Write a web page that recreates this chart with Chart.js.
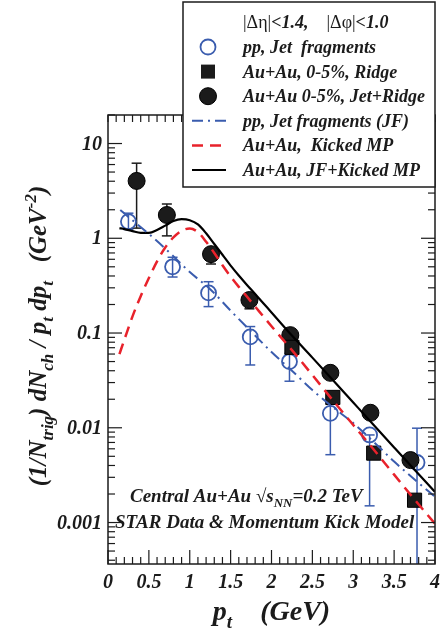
<!DOCTYPE html>
<html lang="en">
<head>
<meta charset="UTF-8">
<title>pt spectra - momentum kick model</title>
<script src="https://cdn.jsdelivr.net/npm/chart.js"></script>
<style>
  body { margin: 0; background: #fff; }
  canvas { display: block; }
</style>
</head>
<body>
<canvas id="ptChart" width="447" height="631"></canvas>
<script>
// values
const ppX  = [0.25, 0.79, 1.23, 1.74, 2.22, 2.72, 3.20, 3.78];
const ppY  = [1.50, 0.50, 0.265, 0.091, 0.050, 0.0142, 0.0084, 0.0043];
const ppLo = [1.24, 0.39, 0.19, 0.046, 0.031, 0.0052, 0.0015, 0.0001];
const ppHi = [1.84, 0.63, 0.348, 0.117, 0.061, 0.019, 0.0084, 0.0099];

const ridgeX = [2.25, 2.75, 3.25, 3.75];
const ridgeY = [0.0706, 0.0209, 0.0054, 0.00172];

const jrX  = [0.35, 0.72, 1.26, 1.73, 2.23, 2.72, 3.21, 3.70];
const jrY  = [4.03, 1.76, 0.68, 0.223, 0.095, 0.038, 0.0144, 0.00456];
const jrLo = [1.28, 1.06, 0.535, 0.18, 0.095, 0.038, 0.0144, 0.00456];
const jrHi = [6.2, 2.30, 0.68, 0.223, 0.095, 0.038, 0.0144, 0.00456];

const jfX = [0.15, 0.25, 0.5, 0.75, 1, 1.25, 1.5, 1.75, 2, 2.25, 2.5, 2.75, 3, 3.25, 3.5, 3.75, 4];
const jfY = [1.99, 1.68, 1.11, 0.71, 0.44, 0.29, 0.172, 0.104, 0.063, 0.040, 0.025, 0.0165, 0.0112, 0.0071, 0.0044, 0.00285, 0.00187];

const kickX = [0.14, 0.2, 0.3, 0.4, 0.5, 0.6, 0.7, 0.8, 0.9, 1.0, 1.1, 1.2, 1.3, 1.4, 1.5, 1.6, 1.7, 1.8, 1.9, 2.0,
               2.25, 2.5, 2.75, 3.0, 3.25, 3.5, 3.75, 4.0];
const kickY = [0.06, 0.085, 0.15, 0.245, 0.38, 0.57, 0.80, 1.02, 1.20, 1.27, 1.16, 0.92, 0.70, 0.52, 0.395, 0.307, 0.242, 0.19, 0.15, 0.118,
               0.066, 0.036, 0.0195, 0.0107, 0.0059, 0.0032, 0.00175, 0.00097];

const sumX = [0.14, 0.2, 0.3, 0.4, 0.5, 0.6, 0.7, 0.8, 0.9, 1.0, 1.1, 1.2, 1.3, 1.4, 1.5, 1.6, 1.7, 1.8, 1.9, 2.0,
              2.25, 2.5, 2.75, 3.0, 3.25, 3.5, 3.75, 4.0];
const sumY = [1.28, 1.25, 1.19, 1.14, 1.14, 1.22, 1.36, 1.52, 1.59, 1.55, 1.40, 1.13, 0.87, 0.67, 0.515, 0.405, 0.322, 0.258, 0.206, 0.165,
              0.094, 0.055, 0.032, 0.0185, 0.0107, 0.0062, 0.0036, 0.0021];

const xTickValues = [0, 0.5, 1, 1.5, 2, 2.5, 3, 3.5, 4];
const xTickLabels = ['0', '0.5', '1', '1.5', '2', '2.5', '3', '3.5', '4'];
const yTickValues = [10, 1, 0.1, 0.01, 0.001];
const yTickLabels = ['10', '1', '0.1', '0.01', '0.001'];

const legendLabels = ['pp, Jet  fragments', 'Au+Au, 0-5%, Ridge', 'Au+Au 0-5%, Jet+Ridge',
                      'pp, Jet fragments (JF)', 'Au+Au,  Kicked MP', 'Au+Au, JF+Kicked MP'];

const BLUE = '#3a5cae', RED = '#e8222b', INK = '#1b1b1b';
const FONT = '"Liberation Serif", "DejaVu Serif", serif';

const pts = (xs, ys) => xs.map((v, i) => ({ x: v, y: ys[i] }));

function setFont(ctx, size, style) {
  ctx.font = (style || 'italic bold') + ' ' + size + 'px ' + FONT;
}

// draws text runs with sub/superscripts, returns width
function drawRich(ctx, parts, x, y, size, align) {
  const runs = parts.map(p => {
    const kind = p[1] || '';
    const s = (kind === 'sub' || kind === 'sup') ? size * 0.68 : size;
    const st = kind === 'up' ? 'normal' : 'italic bold';
    setFont(ctx, s, st);
    return { t: p[0], s: s, st: st,
      dy: kind === 'sub' ? size * 0.28 : kind === 'sup' ? -size * 0.42 : 0,
      w: ctx.measureText(p[0]).width };
  });
  const total = runs.reduce((a, r) => a + r.w, 0);
  let cx = align === 'center' ? x - total / 2 : x;
  ctx.textAlign = 'left';
  ctx.textBaseline = 'alphabetic';
  runs.forEach(r => { setFont(ctx, r.s, r.st); ctx.fillText(r.t, cx, y + r.dy); cx += r.w; });
  return total;
}

function seg(ctx, x1, y1, x2, y2) {
  ctx.beginPath(); ctx.moveTo(x1, y1); ctx.lineTo(x2, y2); ctx.stroke();
}

const errorBars = {
  id: 'errorBars',
  beforeDatasetsDraw(chart) {
    const { ctx, chartArea: a, scales: { x, y } } = chart;
    ctx.save();
    ctx.beginPath(); ctx.rect(a.left, a.top, a.right - a.left, a.bottom - a.top); ctx.clip();
    ctx.lineWidth = 1.5;
    const bars = (xs, lo, hi, color) => {
      ctx.strokeStyle = color;
      xs.forEach((v, i) => {
        const px = x.getPixelForValue(v);
        const p1 = y.getPixelForValue(lo[i]), p2 = y.getPixelForValue(hi[i]);
        seg(ctx, px, p1, px, p2);
        seg(ctx, px - 5, p1, px + 5, p1);
        seg(ctx, px - 5, p2, px + 5, p2);
      });
    };
    bars(ppX, ppLo, ppHi, BLUE);
    bars(jrX, jrLo, jrHi, INK);
    ctx.restore();
  }
};

const frame = {
  id: 'frame',
  afterDraw(chart) {
    const { ctx, chartArea: a, scales: { x, y } } = chart;
    ctx.save();
    ctx.strokeStyle = INK;
    ctx.fillStyle = INK;
    ctx.lineWidth = 1.5;
    ctx.strokeRect(a.left, a.top, a.right - a.left, a.bottom - a.top);

    // inward ticks
    ctx.lineWidth = 1.2;
    for (let i = 0; i <= 40; i++) {
      const px = x.getPixelForValue(i / 10);
      const len = i % 5 === 0 ? 14 : 7;
      seg(ctx, px, a.bottom, px, a.bottom - len);
      seg(ctx, px, a.top, px, a.top + 7);
    }
    for (let e = -4; e <= 1; e++) {
      for (let m = 1; m <= 9; m++) {
        const v = m * Math.pow(10, e);
        if (v < y.min || v > y.max) continue;
        const py = y.getPixelForValue(v);
        const len = m === 1 ? 14 : 7;
        seg(ctx, a.left, py, a.left + len, py);
        seg(ctx, a.right, py, a.right - len, py);
      }
    }

    // tick labels
    setFont(ctx, 20);
    ctx.textAlign = 'center';
    ctx.textBaseline = 'alphabetic';
    xTickValues.forEach((v, i) => ctx.fillText(xTickLabels[i], x.getPixelForValue(v), a.bottom + 24));
    ctx.textAlign = 'right';
    ctx.textBaseline = 'middle';
    yTickValues.forEach((v, i) => ctx.fillText(yTickLabels[i], a.left - 6, y.getPixelForValue(v) + 1));

    // axis titles
    drawRich(ctx, [['p'], ['t', 'sub'], ['    (GeV)']], (a.left + a.right) / 2, 620, 28, 'center');
    ctx.save();
    ctx.translate(46, 336);
    ctx.rotate(-Math.PI / 2);
    drawRich(ctx, [['(1/N'], ['trig', 'sub'], [') dN'], ['ch', 'sub'], [' / p'], ['t', 'sub'], [' dp'], ['t', 'sub'],
                   ['   (GeV'], ['-2', 'sup'], [')']], 0, 0, 25, 'center');
    ctx.restore();

    // annotation
    drawRich(ctx, [['Central Au+Au '], ['\u221A', 'up'], ['s'], ['NN', 'sub'], ['=0.2 TeV']], 130, 502, 19);
    drawRich(ctx, [['STAR Data & Momentum Kick Model']], 115, 528, 19);

    // legend box
    const L = 183, T = 2, R = 435, B = 187;
    ctx.fillStyle = '#fff';
    ctx.fillRect(L, T, R - L, B - T);
    ctx.lineWidth = 1.5;
    ctx.strokeRect(L, T, R - L, B - T);
    ctx.fillStyle = INK;
    drawRich(ctx, [['|\u0394\u03B7|', 'up'], ['<1.4,'], ['    '], ['|\u0394\u03C6|', 'up'], ['<1.0']], 243, 28, 18);

    const ds = chart.data.datasets;
    const order = [3, 4, 5, 0, 1, 2];
    order.forEach((k, i) => {
      const d = ds[k];
      const cy = 47 + i * 24.6;
      const sx = 208;
      ctx.save();
      if (d.showLine) {
        ctx.strokeStyle = d.borderColor;
        ctx.lineWidth = d.borderWidth;
        ctx.setLineDash(d.borderDash || []);
        seg(ctx, 192, cy, 226, cy);
      } else if (d.pointStyle === 'rect') {
        ctx.fillStyle = d.backgroundColor;
        ctx.fillRect(sx - 7, cy - 7, 14, 14);
      } else {
        ctx.beginPath();
        ctx.arc(sx, cy, d.pointRadius, 0, Math.PI * 2);
        ctx.fillStyle = d.backgroundColor;
        ctx.fill();
        ctx.strokeStyle = d.borderColor;
        ctx.lineWidth = d.borderWidth;
        ctx.stroke();
      }
      ctx.restore();
      drawRich(ctx, [[legendLabels[i]]], 243, cy + 6, 18);
    });
    ctx.restore();
  }
};

new Chart(document.getElementById('ptChart'), {
  type: 'scatter',
  data: {
    datasets: [
      { label: 'pp, Jet fragments (JF)', data: pts(jfX, jfY), showLine: true, pointRadius: 0,
        borderColor: BLUE, borderWidth: 2, borderDash: [11, 5, 2, 5], cubicInterpolationMode: 'monotone', order: 1 },
      { label: 'Au+Au, Kicked MP', data: pts(kickX, kickY), showLine: true, pointRadius: 0,
        borderColor: RED, borderWidth: 2.5, borderDash: [11, 7], cubicInterpolationMode: 'monotone', order: 0 },
      { label: 'Au+Au, JF+Kicked MP', data: pts(sumX, sumY), showLine: true, pointRadius: 0,
        borderColor: '#000', borderWidth: 2.2, cubicInterpolationMode: 'monotone', order: 2 },
      { label: 'pp, Jet fragments', data: pts(ppX, ppY), pointStyle: 'circle', pointRadius: 7.5,
        borderColor: BLUE, borderWidth: 1.8, backgroundColor: 'rgba(0,0,0,0)', order: 5 },
      { label: 'Au+Au, 0-5%, Ridge', data: pts(ridgeX, ridgeY), pointStyle: 'rect', pointRadius: 10,
        borderColor: '#000', borderWidth: 1, backgroundColor: INK, order: 3 },
      { label: 'Au+Au 0-5%, Jet+Ridge', data: pts(jrX, jrY), pointStyle: 'circle', pointRadius: 8.5,
        borderColor: '#000', borderWidth: 1, backgroundColor: INK, order: 4 }
    ]
  },
  options: {
    responsive: false,
    animation: false,
    layout: { padding: { left: 108, right: 12, top: 115, bottom: 67 } },
    scales: {
      x: { type: 'linear', min: 0, max: 4, display: false },
      y: { type: 'logarithmic', min: 0.000365, max: 20, display: false }
    },
    plugins: { legend: { display: false }, tooltip: { enabled: false } }
  },
  plugins: [errorBars, frame]
});
</script>
</body>
</html>
